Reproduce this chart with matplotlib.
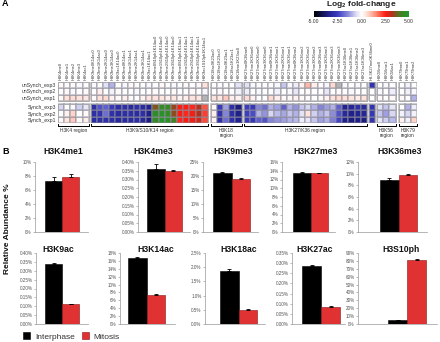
import matplotlib
matplotlib.use('Agg')
import matplotlib.pyplot as plt
import numpy as np
from matplotlib.colors import LinearSegmentedColormap, Normalize
from matplotlib.patches import Rectangle

plt.rcParams['font.family'] = ['Liberation Sans', 'DejaVu Sans']
plt.rcParams['mathtext.fontset'] = 'custom'
plt.rcParams['mathtext.rm'] = 'Liberation Sans:bold'

W, H = 440, 342

#--------------------------------- heatmap data (log2 fold-change) ---------------------------------

group_columns = [
    ['H3K4me0', 'H3K4me1', 'H3K4me2', 'H3K4me3', 'H3K4ac1'],
    ['H3K9me0K14ac0', 'H3K9me1K14ac0', 'H3K9me2K14ac0', 'H3K9me3K14ac0', 'H3K9ac1K14ac0',
     'H3K9me0K14ac1', 'H3K9me1K14ac1', 'H3K9me2K14ac1', 'H3K9me3K14ac1', 'H3K9ac1K14ac1',
     'H3K9me0S10ph1K14ac0', 'H3K9me1S10ph1K14ac0', 'H3K9me2S10ph1K14ac0', 'H3K9me3S10ph1K14ac0',
     'H3K9me0S10ph1K14ac1', 'H3K9me1S10ph1K14ac1', 'H3K9me2S10ph1K14ac1', 'H3K9me3S10ph1K14ac1',
     'H3K9ac1S10ph1K14ac1'],
    ['H3K18ac0K23ac0', 'H3K18ac1K23ac0', 'H3K18ac0K23ac1', 'H3K18ac1K23ac1', 'H3K18me1K23ac0'],
    ['H3K27me0K36me0', 'H3K27me1K36me0', 'H3K27me2K36me0', 'H3K27me3K36me0',
     'H3K27me0K36me1', 'H3K27me1K36me1', 'H3K27me2K36me1', 'H3K27me3K36me1',
     'H3K27me0K36me2', 'H3K27me1K36me2', 'H3K27me2K36me2', 'H3K27me3K36me2',
     'H3K27me0K36me3', 'H3K27me1K36me3', 'H3K27me2K36me3', 'H3K27me3K36me3',
     'H3K27ac1K36me0', 'H3K27ac1K36me1', 'H3K27ac1K36me2', 'H3K27ac1K36me3'],
    ['H3.3K27me0K36me0'],
    ['H3K56me0', 'H3K56me1', 'H3K56ac1'],
    ['H3K79me0', 'H3K79me1', 'H3K79me2'],
]
region_labels = ['H3K4 region', 'H3K9/S10/K14 region', 'H3K18\nregion', 'H3K27/K36 region',
                 None, 'H3K56\nregion', 'H3K79\nregion']

nan = np.nan
unsynch_exp3 = [0.1, 0.0, 0.1, -0.1, 0.0,
                -0.1, 0.0, -0.5, -1.0, 0.0, -0.1, 0.1, 0.0, 0.0, -0.1, 0.0, 0.1, 0.0, -0.1, 0.0, 0.1, 0.0, 0.1, 0.5,
                0.0, 0.0, 0.0, 0.0, -0.5,
                -0.5, -0.1, 0.0, 0.0, 0.0, -0.1, -0.8, -0.1, -0.3, 0.2, 1.0, 0.3, 0.0, -0.1, 0.6, nan, -0.1, 0.0, -0.1, 0.0,
                -2.8,
                0.0, -0.1, 0.0,
                0.0, -0.2, 0.0]
unsynch_exp2 = [0.0, 0.1, -0.1, 0.0, 0.1,
                0.0, 0.3, 0.0, -0.2, 0.1, 0.0, 0.0, -0.1, 0.0, 0.0, 0.1, 0.0, 0.0, 0.1, 0.0, 0.0, 0.1, 0.0, -0.1,
                0.0, 0.1, 0.0, 0.0, -0.2,
                -0.3, 0.0, -0.1, 0.0, 0.0, -0.2, 0.0, -0.1, -0.4, 0.0, 0.1, 0.0, 0.0, -0.4, 0.0, 0.1, 0.0, -0.1, 0.0, 0.0,
                0.0,
                -0.1, 0.0, -0.3,
                0.0, -0.2, -0.1]
unsynch_exp1 = [0.1, 0.5, 0.6, 0.5, 0.4,
                0.1, 0.5, 0.6, 0.2, 0.1, 0.3, 0.1, 0.0, 0.2, 0.4, 0.5, 0.4, 0.3, 0.4, 0.2, 0.3, 0.5, 0.4, nan,
                0.5, 0.4, 0.8, 0.3, 0.2,
                0.6, 0.2, 0.0, 0.0, 0.6, 0.3, 0.1, 0.1, 0.2, 0.1, 0.1, 0.0, 0.1, 0.2, 0.5, 0.6, 0.5, 0.4, 0.3, 0.5,
                0.0,
                0.1, 0.0, 0.1,
                0.1, 0.0, -1.0]
synch_exp3 = [-0.6, 0.0, -0.1, -0.7, -0.4,
              -3.0, -2.2, -2.0, -2.6, -3.0, -3.0, -3.2, -3.0, -3.1, -3.4, 3.6, 4.5, 4.4, 3.4, 2.5, 2.5, 2.4, 3.1, 2.0,
              0.1, -2.6, -1.2, -3.0, -3.6,
              -2.5, -2.7, -1.5, -1.8, -1.0, -1.2, -2.0, -1.0, -1.3, -0.8, -0.6, -1.0, -1.5, -1.2, -1.0, -2.0, -3.4, -3.3, -3.0, -3.2,
              -2.8,
              -0.5, -0.8, -0.4,
              0.0, -1.0, -0.3]
synch_exp2 = [0.0, 0.2, 0.7, 0.0, 0.1,
              -3.0, -2.8, -1.8, -2.9, -3.1, -3.0, -3.0, -3.1, -3.0, -3.5, 4.6, 4.7, 4.5, 3.5, 2.5, 2.4, 2.6, 3.2, 2.2,
              0.3, -2.8, -1.5, -3.0, -3.5,
              -2.5, -2.3, -1.0, -1.3, -0.6, -0.9, -1.1, -0.8, -1.0, -0.5, 0.5, -0.7, -1.0, -0.8, -1.4, -2.2, -3.2, -3.5, -3.4, -3.3,
              -2.7,
              -0.8, -1.2, -0.6,
              -0.2, -0.6, -0.2]
synch_exp1 = [0.1, 0.4, 0.8, 0.1, 0.3,
              -3.1, -3.0, -2.9, -3.0, -3.2, -3.1, -3.1, -3.0, -3.2, -3.6, 4.5, 4.8, 4.6, 4.2, 2.4, 2.5, 2.6, 2.9, 2.1,
              0.2, -2.9, -1.8, -2.9, -3.4,
              -2.6, -2.7, -2.0, -2.2, -1.5, -1.3, -1.2, -1.0, -0.9, -0.3, -0.4, -0.8, -1.2, -1.0, -1.6, -2.4, -3.5, -3.6, -3.5, -3.6,
              -2.8,
              -0.4, -0.7, -0.9,
              0.2, -0.2, 0.7]

unsynch_rows = ['unSynch_exp1', 'unSynch_exp2', 'unSynch_exp3']
synch_rows = ['Synch_exp1', 'Synch_exp2', 'Synch_exp3']

#--------------------------------- bar chart data (relative abundance %) ---------------------------

marks = ['H3K4me1', 'H3K4me3', 'H3K9me3', 'H3K27me3', 'H3K36me3',
         'H3K9ac', 'H3K14ac', 'H3K18ac', 'H3K27ac', 'H3S10ph']
interphase = [7.3, 0.36, 21.0, 13.55, 8.95, 0.34, 16.8, 1.87, 0.285, 5.0]
mitosis = [7.9, 0.35, 18.9, 13.4, 9.7, 0.11, 7.4, 0.51, 0.085, 81.3]
interphase_err = [0.6, 0.03, 0.5, 0.15, 0.25, 0.005, 0.2, 0.08, 0.004, 0.5]
mitosis_err = [0.4, 0.005, 0.3, 0.1, 0.3, 0.005, 0.15, 0.02, 0.002, 0.6]
y_max = [10, 0.40, 25, 16, 12, 0.40, 18, 2.5, 0.35, 90]
y_step = [2, 0.05, 5, 2, 2, 0.05, 2, 0.5, 0.05, 10]
y_decimals = [0, 2, 0, 0, 0, 2, 0, 1, 2, 0]

#--------------------------------- layout (pixels) -------------------------------------------------

def px_rect(x0, y0, x1, y1):
    return [x0 / W, 1 - y1 / H, (x1 - x0) / W, (y1 - y0) / H]

# axis left, axis right, first bar left, bar width, top, bottom
bar_layout = [
    (35, 88, 45, 17, 162, 232), (138, 190, 147, 17.5, 162, 232), (203, 258, 213, 18.5, 162, 232),
    (282, 335, 293, 17.5, 162, 232), (358, 427, 380, 18.5, 162, 232),
    (36, 88, 45, 17, 253, 324), (120, 175, 128, 18.5, 253, 324), (205, 265, 220, 18.5, 253, 324),
    (292, 345, 302, 19, 253, 324), (358, 437, 388, 19, 253, 324),
]
title_pos = [(63, 152), (153, 152), (233, 152), (315, 152), (400, 152),
             (58, 250), (156, 250), (239, 250), (315, 250), (401, 250)]

col_px = 6.16
gap_px = [2, 3, 2, 2, 2, 3]

fig = plt.figure(figsize=(W / 100, H / 100), dpi=100)

#--------------------------------- heatmap ---------------------------------------------------------

cmap = LinearSegmentedColormap.from_list('fc', [
    (0.00, '#000000'), (0.15, '#20208c'), (0.25, '#3c3cc2'), (0.36, '#8c8cdc'),
    (0.45, '#e2e2f6'), (0.50, '#ffffff'), (0.56, '#ffdcd2'), (0.65, '#ff8c74'),
    (0.75, '#ff1c12'), (0.82, '#b4301c'), (0.90, '#4c7a20'), (1.00, '#1c9a2c')])
cmap.set_bad('#b4b4b4')
norm = Normalize(-5, 5)

hm = fig.add_axes(px_rect(58, 82, 417, 123))
blocks = [(0.0, [synch_exp1, synch_exp2, synch_exp3]),
          (3.5, [unsynch_exp1, unsynch_exp2, unsynch_exp3])]

x = 0.0
start = 0
centers, names = [], []
group_spans = []
for g, cols in enumerate(group_columns):
    n = len(cols)
    xe = x + np.arange(n + 1)
    for y0, rows in blocks:
        vals = np.ma.masked_invalid(np.array([r[start:start + n] for r in rows], dtype=float))
        mesh = hm.pcolormesh(xe, y0 + np.arange(4), vals, cmap=cmap, norm=norm,
                             edgecolors=(0.55, 0.55, 0.6, 0.45), linewidth=0.25)
        hm.add_patch(Rectangle((x, y0), n, 3, fill=False, edgecolor='#a0a0a0', lw=0.5))
    centers += list(x + np.arange(n) + 0.5)
    names += cols
    group_spans.append((x, x + n))
    start += n
    x += n + (gap_px[g] / col_px if g < len(gap_px) else 0)

hm.set_xlim(0, x)
hm.set_ylim(0, 6.5)
hm.xaxis.tick_top()
hm.set_xticks(centers)
hm.set_xticklabels(names, rotation=90, fontsize=2.9, color='#333333')
hm.set_yticks([0.5, 1.5, 2.5, 4.0, 5.0, 6.0])
hm.set_yticklabels(synch_rows + unsynch_rows, fontsize=3.7, color='#333333')
hm.tick_params(length=0, pad=1.2)
for s in hm.spines.values():
    s.set_visible(False)

for (x0, x1), lab in zip(group_spans, region_labels):
    if lab is None:
        continue
    hm.plot([x0, x0, x1, x1], [-0.12, -0.45, -0.45, -0.12], color='black', lw=0.7, clip_on=False)
    hm.text((x0 + x1) / 2, -0.8, lab, ha='center', va='top', fontsize=3.5,
            color='#333333', linespacing=1.1)

cax = fig.add_axes(px_rect(314, 11, 409, 17))
cb = fig.colorbar(mesh, cax=cax, orientation='horizontal', ticks=[-5, -2.5, 0, 2.5, 5], format='%.2f')
cb.outline.set_visible(False)
cax.tick_params(length=0, labelsize=3.6, pad=1.2, labelcolor='#333333')
fig.text(361 / W, 1 - 5 / H, r'Log$_2$ fold-change', ha='center', va='center',
         fontsize=6, fontweight='bold', color='#222222')

#--------------------------------- bar charts ------------------------------------------------------

first_bars = None
for i, mark in enumerate(marks):
    ax_l, ax_r, bar_l, bw, top, bottom = bar_layout[i]
    ax = fig.add_axes(px_rect(ax_l, top, ax_r, bottom))
    bars = ax.bar([0, 1], [interphase[i], mitosis[i]], width=1, align='edge',
                  color=['#000000', '#e03232'], edgecolor=['#000000', '#8c1414'], linewidth=0.4)
    ax.errorbar([0.5, 1.5], [interphase[i], mitosis[i]],
                yerr=[[0, 0], [interphase_err[i], mitosis_err[i]]],
                fmt='none', ecolor='black', elinewidth=0.6, capsize=1.5, capthick=0.6)
    if first_bars is None:
        first_bars = bars
    ax.set_xlim((ax_l - bar_l) / bw, (ax_r - bar_l) / bw)
    ax.set_ylim(0, y_max[i])
    ticks = np.arange(0, y_max[i] + y_step[i] / 2, y_step[i])
    ax.set_yticks(ticks)
    ax.set_yticklabels([f'{t:.{y_decimals[i]}f}%' for t in ticks], fontsize=3.3, color='#555555')
    ax.set_xticks([])
    ax.tick_params(axis='y', length=1.5, width=0.4, color='#888888', pad=1)
    for side in ['top', 'right']:
        ax.spines[side].set_visible(False)
    for side in ['left', 'bottom']:
        ax.spines[side].set_color('#999999')
        ax.spines[side].set_linewidth(0.5)
    tx, ty = title_pos[i]
    fig.text(tx / W, 1 - ty / H, mark, ha='center', va='center', fontsize=6.2,
             fontweight='bold', color='#111111')

fig.text(8 / W, 1 - 229 / H, 'Relative Abundance %', rotation=90, ha='center', va='center',
         fontsize=6, fontweight='bold', color='#111111')
fig.text(2 / W, 1 - 4 / H, 'A', ha='left', va='center', fontsize=6.5, fontweight='bold')
fig.text(2 / W, 1 - 151 / H, 'B', ha='left', va='center', fontsize=6.5, fontweight='bold')

leg = fig.legend([first_bars.patches[0], first_bars.patches[1]], ['Interphase', 'Mitosis'],
                 loc='center left', bbox_to_anchor=(23 / W, 1 - 336.5 / H), ncol=2,
                 fontsize=6, frameon=False, handlelength=0.85, handleheight=0.85,
                 handletextpad=0.6, columnspacing=0.8, borderpad=0, borderaxespad=0)
for t in leg.get_texts():
    t.set_color('#333333')

fig.savefig('out.png', dpi=100)
